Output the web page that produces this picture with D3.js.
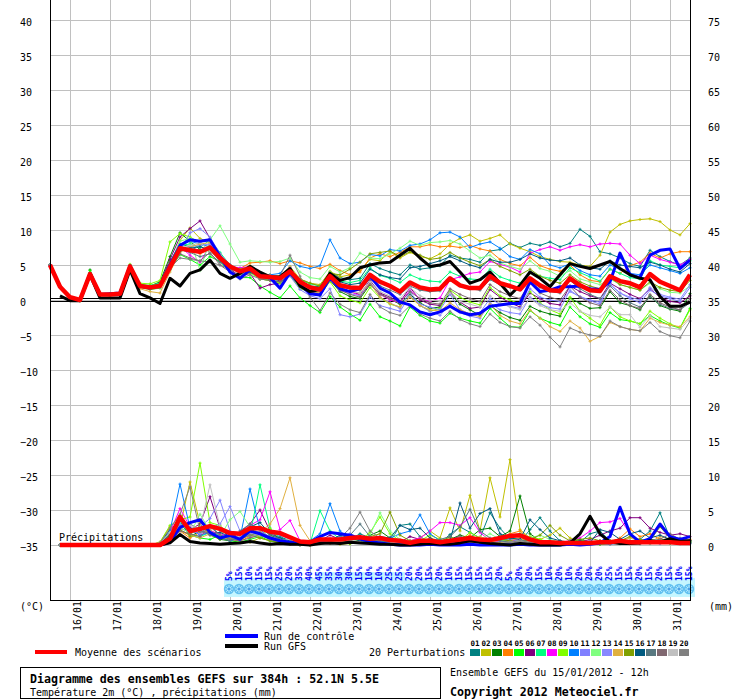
<!DOCTYPE html>
<html><head><meta charset="utf-8">
<script src="https://cdn.jsdelivr.net/npm/d3@7"></script>
<style>
body{margin:0;background:#fff}
svg{display:block}
text{font-family:"DejaVu Sans Mono",monospace;fill:#000}
</style></head><body>
<svg id="c" width="740" height="700"></svg>
<script>
// ---------- DATA ----------
const dayLabels=["16/01","17/01","18/01","19/01","20/01","21/01","22/01","23/01","24/01","25/01","26/01","27/01","28/01","29/01","30/01","31/01"];
const leftTicks=[40,35,30,25,20,15,10,5,0,-5,-10,-15,-20,-25,-30,-35];
const rightTicks=[75,70,65,60,55,50,45,40,35,30,25,20,15,10,5,0];
const memberNames=["01","02","03","04","05","06","07","08","09","10","11","12","13","14","15","16","17","18","19","20"];
const memberColors=["#008080","#c0c000","#008000","#ff8000","#00ff00","#800080","#00ff80","#ff00ff","#80ff00","#0080ff","#8080ff","#80ff80","#8888ff","#e0b040","#80a000","#005a80","#587880","#806870","#c0c0c0","#808080"];

// temperature (°C), 6-hourly from 15/01 12h
const tMean=[5.0,1.9,0.4,0.0,3.7,0.8,0.8,0.9,4.8,2.0,1.8,2.0,4.7,7.4,7.1,6.9,7.5,6.0,4.8,4.1,4.5,3.4,3.3,3.1,4.1,2.6,1.8,1.5,3.4,2.1,1.8,1.7,3.6,2.6,2.0,1.2,2.5,1.8,1.5,1.6,3.1,2.1,1.7,1.7,3.4,2.4,2.0,1.5,3.1,2.1,1.4,1.3,3.1,2.1,1.4,1.3,3.4,2.7,2.4,1.8,3.7,2.6,2.0,1.4,3.6];
const tControl=[5.0,1.9,0.4,0.0,3.8,0.8,0.9,1.0,4.9,2.0,1.7,2.1,5.0,7.8,8.6,8.4,8.6,6.2,4.0,3.1,4.3,3.6,3.2,1.7,3.9,2.2,0.9,0.7,3.2,1.6,1.2,1.6,3.4,1.7,1.0,-0.3,-0.7,-1.7,-2.1,-1.7,-0.9,-1.7,-2.1,-1.9,-0.9,-0.7,-0.5,-0.5,2.6,1.2,1.4,1.9,1.9,2.0,1.6,1.5,2.6,6.7,3.6,3.2,6.4,7.1,7.3,4.5,5.7];
const tGFS=[null,0.6,-0.1,-0.1,3.6,0.3,0.3,0.3,4.3,0.9,0.3,-0.5,3.1,2.0,3.8,4.3,5.7,3.8,3.1,3.8,4.8,4.0,3.3,3.3,4.5,2.0,1.2,1.5,3.8,2.8,3.2,4.6,5.0,5.3,5.4,6.4,7.4,6.0,4.8,5.0,5.5,4.0,2.4,2.9,4.0,2.4,0.7,2.1,4.0,3.1,1.9,3.6,5.2,4.8,4.5,5.0,5.5,4.5,3.6,3.1,2.9,0.5,-0.9,-0.9,-0.3];
const t01=[5.0,1.9,0.4,0.1,3.8,0.9,0.8,1.0,4.9,2.1,1.9,2.3,5.5,8.0,7.6,7.0,7.8,6.2,4.9,4.0,4.6,3.5,3.0,2.9,4.3,2.8,2.0,1.9,4.0,3.2,2.9,3.1,5.2,4.5,4.0,3.6,5.0,4.4,4.6,4.9,6.4,6.0,5.8,5.4,7.0,7.2,8.1,7.5,8.1,7.8,8.3,7.6,8.1,10.1,9.1,6.9,6.6,6.0,5.2,4.8,7.1,6.2,5.5,5.0,6.0];
const t02=[5.0,1.9,0.4,0.0,3.6,0.8,0.9,0.9,4.7,1.9,1.7,2.1,5.0,8.5,10.3,8.8,8.2,6.6,5.0,4.3,4.9,3.8,3.6,3.3,4.8,3.0,2.4,2.2,4.1,3.3,3.6,4.2,5.8,5.6,6.9,6.0,6.8,6.2,5.9,6.6,8.0,8.8,9.3,8.4,8.8,9.3,8.0,7.4,6.9,6.2,5.8,5.5,5.4,5.0,4.8,6.4,9.7,10.8,11.3,11.5,11.6,11.2,10.0,9.3,10.9];
const t03=[5.0,1.8,0.3,-0.1,4.3,0.9,0.7,0.8,5.0,2.2,2.0,2.6,6.2,9.6,8.4,7.2,7.0,5.8,4.6,3.8,4.2,3.0,2.8,2.6,3.6,1.8,1.0,0.6,2.8,1.2,0.5,0.2,2.2,0.9,0.1,-0.6,0.8,-0.4,-1.2,-1.0,1.0,-0.6,-1.4,-2.2,-0.8,-1.8,-2.5,-2.9,-0.9,-1.6,-2.0,-2.3,0.3,-0.5,-1.2,-1.1,1.2,-0.4,-0.8,-1.4,0.6,-0.8,-1.3,-1.6,0.9];
const t04=[5.0,1.9,0.5,0.1,3.7,0.8,0.8,0.9,4.6,1.9,1.6,1.8,4.6,7.0,7.4,6.6,7.2,5.6,4.4,4.5,5.3,5.4,5.6,5.2,5.6,5.3,4.8,4.5,5.1,4.2,3.6,4.0,6.0,6.6,6.2,6.8,7.6,7.6,7.9,7.6,7.7,7.5,7.8,7.3,7.0,5.8,5.2,4.9,6.1,4.9,4.4,4.1,5.0,3.6,2.8,2.6,4.4,3.8,4.9,5.4,6.7,6.0,6.6,6.9,6.9];
const t05=[5.0,1.8,0.3,-0.1,4.2,0.7,0.6,0.8,4.5,1.8,1.5,1.7,4.3,6.5,5.8,5.0,6.2,5.5,4.0,3.2,3.2,2.0,1.1,0.3,2.0,0.3,-0.8,-1.8,0.5,-1.0,-2.0,-2.9,-0.6,-2.4,-3.0,-3.7,-1.0,-2.2,-3.0,-3.3,-1.9,-2.6,-3.0,-3.3,-1.2,-2.6,-3.8,-3.9,-1.5,-2.6,-3.2,-3.6,-1.0,-2.4,-3.4,-3.9,-1.8,-2.8,-3.0,-3.4,-2.2,-3.0,-3.6,-4.0,-1.2];
const t06=[5.0,1.9,0.4,0.0,3.7,0.8,0.8,1.0,4.8,2.1,1.9,2.4,5.8,9.0,10.2,11.3,8.8,6.4,4.4,3.4,3.8,1.7,2.2,2.4,3.8,2.2,1.4,0.9,3.0,1.6,1.2,0.8,2.8,1.0,0.4,-0.3,1.8,0.0,-0.6,-0.8,1.2,-0.3,-1.2,-1.0,1.5,0.4,-0.4,-1.0,1.0,0.2,-0.5,-0.7,2.0,1.2,0.6,0.2,2.4,1.6,0.8,0.2,1.6,0.4,-0.2,-0.4,0.6];
const t07=[5.0,2.0,0.4,0.0,3.8,0.8,0.8,0.9,4.9,2.2,2.1,2.4,5.0,7.8,8.0,7.5,8.6,6.8,5.0,4.2,4.4,3.6,3.3,3.2,4.4,2.9,2.3,2.0,3.9,2.7,2.5,2.8,4.6,3.5,3.1,2.5,3.6,3.0,2.7,2.6,4.0,3.4,3.0,2.9,4.4,3.3,2.8,2.4,4.0,3.4,3.1,2.9,4.6,3.9,3.3,2.7,4.4,3.8,3.2,3.0,5.6,5.0,4.8,4.6,5.6];
const t08=[5.0,1.9,0.4,0.0,3.7,0.8,0.8,0.9,4.8,2.0,1.8,2.0,4.9,7.6,6.4,5.4,7.8,6.1,4.8,4.6,4.8,3.8,3.5,3.3,4.6,2.7,1.6,1.3,3.5,1.9,1.2,0.6,2.3,0.8,0.0,-0.4,1.4,0.2,-0.2,0.3,2.9,3.3,3.8,4.0,5.5,5.1,4.7,4.0,6.7,7.2,7.6,7.1,7.6,7.9,7.6,8.0,8.1,8.0,6.4,5.2,6.4,5.8,5.4,5.0,5.8];
const t09=[5.0,2.0,0.5,0.1,3.9,0.9,0.9,1.0,5.1,2.4,2.3,2.8,8.3,9.5,9.0,8.2,7.0,6.0,4.7,3.6,3.9,3.0,2.8,2.4,3.5,1.6,1.2,0.9,2.6,0.6,0.0,-0.4,1.8,0.3,-0.6,-1.0,0.5,-0.8,-1.6,-1.2,1.4,0.4,-0.3,-0.7,1.8,0.6,0.0,-0.6,1.2,-0.4,-1.4,-2.0,0.4,-1.6,-2.6,-3.6,-1.0,-2.4,-3.0,-3.4,-1.6,-2.6,-3.4,-4.0,-1.4];
const t10=[5.0,1.9,0.4,0.0,3.7,0.8,0.8,0.9,4.7,1.9,1.7,2.0,4.8,7.8,8.4,8.0,7.6,6.3,5.0,3.9,4.7,3.6,3.6,3.8,5.6,4.8,4.5,4.9,8.6,6.0,5.2,5.4,6.5,6.3,7.2,7.0,7.8,8.0,8.6,9.6,9.7,9.0,7.5,8.0,8.3,7.4,6.2,5.8,7.2,6.6,5.0,4.6,5.2,4.2,3.6,3.4,5.0,4.4,3.8,3.6,5.0,4.6,4.2,3.8,4.6];
const t11=[5.0,1.9,0.4,0.0,3.6,0.7,0.7,0.8,4.6,1.8,1.6,1.8,4.5,7.0,9.6,10.2,9.0,6.6,5.0,4.4,4.5,3.4,3.1,2.8,3.4,1.5,0.6,0.2,1.6,-2.1,-2.4,-2.0,0.4,-0.8,-1.2,-1.6,0.6,-0.6,-1.0,-1.4,0.8,-1.4,-2.0,-1.8,0.2,-0.6,-0.9,-1.2,1.6,0.4,0.0,-0.2,1.2,0.5,0.0,-0.3,2.2,1.0,0.2,-0.4,1.4,0.6,0.2,-0.2,1.8];
const t12=[5.0,2.0,0.5,0.1,3.8,0.9,0.8,0.9,4.9,2.0,1.8,2.2,5.2,8.4,8.8,4.2,8.6,10.6,8.0,5.4,5.6,5.5,5.4,5.5,6.0,4.0,3.2,3.0,4.8,4.0,4.6,6.7,6.0,5.9,6.6,7.4,8.4,7.8,8.2,8.3,8.5,8.0,7.0,6.0,6.4,5.3,4.8,4.4,5.6,4.5,4.1,3.4,4.2,3.0,2.6,2.2,3.0,2.2,1.8,1.4,2.4,1.6,1.1,1.0,2.0];
const t13=[5.0,1.9,0.4,0.0,3.7,0.8,0.8,0.9,4.8,2.0,1.9,2.1,4.9,7.2,7.6,7.8,8.0,6.0,4.6,3.8,4.2,3.2,3.1,2.9,3.8,2.2,1.2,0.9,2.9,1.4,0.9,0.6,2.5,0.4,-0.4,-1.2,1.2,-0.8,-1.6,-2.2,-0.6,-1.8,-2.3,-2.6,-0.4,-1.4,-1.8,-2.0,0.4,-0.6,-1.1,-1.3,1.4,0.4,-0.1,-0.6,2.3,1.0,0.4,0.0,1.8,0.8,0.4,0.1,2.2];
const t14=[5.0,1.9,0.4,0.0,3.7,0.8,0.8,0.9,4.6,1.6,1.2,1.0,4.0,6.8,7.6,8.0,8.2,6.4,4.8,3.8,4.4,3.6,3.5,3.4,4.2,2.2,1.3,1.0,3.0,1.8,1.2,1.0,2.4,0.4,-0.5,-1.0,0.4,-0.8,-1.4,-1.6,-0.4,-1.4,-2.0,-2.4,-0.6,-2.2,-3.0,-3.4,-1.4,-2.6,-3.8,-4.5,-3.0,-4.0,-5.9,-5.2,-3.2,-3.8,-4.2,-4.4,-2.6,-3.2,-3.6,-3.8,-2.4];
const t15=[5.0,1.9,0.4,0.0,3.8,0.8,0.8,0.9,4.8,2.1,2.0,2.3,5.4,7.6,7.2,7.0,7.6,6.0,4.9,4.4,4.8,3.6,3.4,3.4,4.4,3.0,2.4,2.0,3.8,3.6,4.4,5.4,6.6,6.8,7.0,6.2,6.9,6.4,5.8,6.0,6.8,6.0,5.4,4.9,5.8,4.8,4.2,3.6,4.4,3.4,2.8,2.4,3.6,2.6,2.0,1.6,3.2,2.2,1.8,1.4,2.6,1.8,1.4,1.2,2.8];
const t16=[5.0,1.9,0.4,0.0,3.7,0.8,0.8,0.9,4.8,2.0,1.8,2.0,4.8,7.0,7.4,7.6,7.2,5.6,4.4,4.0,4.0,3.2,3.0,2.8,4.0,2.4,1.8,1.6,3.6,2.6,2.2,2.4,4.4,3.6,3.2,3.0,4.6,4.8,5.2,5.6,6.2,5.6,5.0,4.6,5.8,5.4,5.4,5.8,6.6,6.0,5.7,5.6,6.0,5.0,4.6,4.4,5.6,5.0,4.8,4.6,5.4,5.0,4.4,4.0,5.2];
const t17=[5.0,1.9,0.4,0.0,3.7,0.8,0.8,0.9,4.8,2.0,1.8,2.0,4.6,7.2,6.8,6.2,6.6,5.4,4.6,4.0,4.4,3.2,3.0,2.9,4.4,2.8,1.9,1.6,3.4,2.0,1.6,1.4,3.0,2.0,1.4,0.8,2.0,1.4,1.2,1.3,2.8,2.0,1.6,1.4,2.9,2.2,1.8,1.6,2.8,1.8,1.2,1.0,2.8,1.6,0.8,0.2,2.0,0.6,-0.4,-1.0,0.4,-0.6,-1.2,-1.4,-0.4];
const t18=[5.0,1.9,0.4,0.0,3.7,0.8,0.8,0.9,4.8,2.0,1.8,2.0,4.4,6.6,6.0,5.6,6.8,5.0,4.0,3.4,4.2,3.0,2.8,2.6,3.6,2.0,1.2,0.8,2.8,1.4,0.8,0.4,2.4,0.8,0.2,-0.4,1.2,0.2,-0.4,-0.6,1.6,0.8,0.2,-0.2,2.2,1.2,0.6,0.2,2.4,1.0,0.4,0.0,2.0,0.4,-0.4,-0.8,1.4,0.0,-0.8,-1.2,0.8,-0.4,-1.0,-1.4,0.2];
const t19=[5.0,1.9,0.4,0.0,3.7,0.8,0.8,0.9,4.8,2.0,1.8,2.0,4.8,7.4,7.8,8.2,7.0,5.8,4.6,3.6,4.4,3.2,3.1,3.0,4.6,2.5,1.6,1.4,3.2,1.8,1.2,1.0,2.6,1.2,0.6,0.2,1.8,0.6,0.0,-0.2,1.0,-0.2,-0.6,-1.0,0.6,-0.4,-1.0,-1.4,0.2,-0.8,-1.4,-1.6,-0.4,-1.6,-2.2,-2.4,-1.0,-2.1,-2.1,-3.9,-2.2,-3.8,-4.0,-4.2,-2.6];
const t20=[5.0,1.9,0.4,0.0,3.7,0.8,0.8,0.9,4.8,2.0,1.8,2.0,4.6,6.0,5.8,5.6,5.4,5.0,4.4,3.0,3.6,3.0,3.2,3.4,6.4,3.4,0.4,-1.5,1.0,-0.6,-1.4,-1.8,0.8,-1.0,-1.8,-2.2,-0.8,-2.0,-2.6,-3.0,-1.6,-2.8,-3.4,-3.8,-2.0,-3.2,-3.8,-4.0,-2.4,-3.6,-5.3,-6.7,-4.0,-4.6,-5.0,-5.2,-3.0,-3.8,-4.2,-4.4,-3.2,-4.5,-5.1,-5.4,-3.0];

// precipitation (mm / 6h)
const pMean=[null,0,0,0,0,0,0,0,0,0,0,0,0.9,4.0,2.0,2.3,2.7,2.3,1.7,1.6,2.4,2.4,1.9,1.7,1.1,0.5,0.4,0.8,0.8,0.8,1.0,1.1,0.9,1.0,0.7,0.6,0.3,0.6,0.6,0.4,0.6,0.8,1.0,0.8,0.7,1.0,1.3,1.4,0.8,0.4,0.4,0.3,0.3,0.3,0.3,0.4,0.4,0.6,0.4,0.4,0.4,0.4,0.4,0.3,0.3];
const pGFS=[null,0,0,0,0,0,0,0,0,0,0,0,0.3,1.5,0.5,0.3,0.2,0.1,0.2,0.3,0.5,0.3,0.1,0.2,0.1,0.1,0.0,0.2,0.3,0.2,0.4,0.3,0.2,0.1,0.1,0.0,0.0,0.1,0.2,0.1,0.1,0.3,0.6,0.4,0.2,0.1,0.0,0.2,0.1,0.0,0.0,0.0,0.3,1.6,4.1,1.6,0.4,0.2,0.2,0.3,0.6,0.4,0.9,0.5,0.6];
const pControl=[null,0,0,0,0,0,0,0,0,0,0,0,0.4,2.5,3.2,3.6,1.8,1.0,1.4,0.8,2.0,1.6,1.0,0.6,0.4,0.2,0.4,1.2,1.8,1.6,1.4,0.9,0.5,0.3,0.1,0.0,0.0,0.0,0.1,0.0,0.0,0.0,0.1,0.0,0.0,0.0,0.0,0.1,0.0,0.0,0.0,0.0,0.1,0.0,0.1,0.3,1.2,5.4,1.6,0.4,0.9,3.0,1.2,0.8,1.2];
const p01=[null,0,0,0,0,0,0,0,0,0,0,0.2,1.5,3.0,2.0,1.6,2.8,1.4,1.0,0.8,2.2,1.8,1.0,1.2,0.6,0.2,0.1,0.4,0.6,0.5,0.8,1.6,1.0,0.6,0.4,2.8,3.0,1.2,0.4,0.3,1.5,2.6,1.8,1.0,4.6,2.4,0.8,0.4,2.2,3.9,2.0,0.6,0.2,0.4,1.6,2.0,0.6,0.2,0.4,0.8,2.0,4.6,1.0,0.4,0.6];
const p02=[null,0,0,0,0,0,0,0,0,0,0,0.1,0.8,2.6,9.0,3.0,1.4,0.8,1.2,0.6,0.4,1.0,0.6,0.2,0.1,0.1,0.0,0.2,0.3,0.1,0.2,0.6,0.3,0.2,0.4,0.2,0.6,1.0,2.0,1.0,5.3,2.0,7.1,2.0,9.6,4.0,12.2,2.2,1.0,0.8,1.4,2.4,1.0,0.4,0.2,0.1,0.2,0.4,0.3,0.2,0.4,0.6,0.3,0.2,0.4];
const p03=[null,0,0,0,0,0,0,0,0,0,0,0.3,2.2,3.4,1.2,2.0,1.6,0.8,0.6,1.0,1.8,2.6,1.4,0.8,0.5,0.2,0.3,0.5,0.4,0.8,1.2,0.8,1.4,2.0,1.0,0.4,0.2,0.3,0.2,0.4,0.8,1.4,1.0,2.2,2.4,1.2,2.0,7.0,1.6,0.6,0.2,0.1,0.2,0.4,0.2,0.1,0.3,0.8,0.4,0.2,0.4,0.8,0.6,0.4,0.2];
const p04=[null,0,0,0,0,0,0,0,0,0,0,0.4,2.6,2.0,1.0,1.8,2.2,1.2,0.8,0.6,1.2,1.6,0.8,0.6,0.4,0.3,0.2,0.6,0.9,0.4,0.6,0.8,0.5,0.8,0.4,0.2,0.1,0.4,1.0,0.6,0.4,0.8,1.4,0.6,0.4,1.0,1.6,2.0,0.8,0.4,0.3,0.2,0.4,0.6,0.3,0.2,0.4,1.0,2.3,1.2,1.6,0.8,0.4,0.6,0.8];
const p05=[null,0,0,0,0,0,0,0,0,0,0,0.2,1.6,4.2,1.4,1.0,0.8,1.4,0.6,0.4,0.8,1.2,0.6,0.3,0.2,0.0,0.1,0.3,0.6,0.4,0.2,0.6,0.8,0.4,0.2,0.1,0.0,0.2,0.4,0.2,0.3,0.6,0.4,0.8,0.5,0.3,1.0,1.6,0.4,0.2,0.1,0.2,0.5,0.8,0.4,0.2,0.6,0.4,0.2,0.3,0.6,0.4,0.2,0.3,0.4];
const p06=[null,0,0,0,0,0,0,0,0,0,0,0.1,1.0,2.8,2.2,3.0,6.9,2.4,1.0,1.8,3.0,5.0,2.0,0.8,0.4,0.0,0.2,0.6,1.4,0.8,0.4,0.6,1.0,0.6,0.2,0.4,1.2,0.8,0.4,0.3,0.8,1.2,0.6,0.4,0.3,0.6,1.0,0.6,0.4,0.2,0.1,0.1,0.2,0.4,0.8,1.4,2.0,2.4,3.9,3.9,2.4,1.8,1.4,1.6,1.2];
const p07=[null,0,0,0,0,0,0,0,0,0,0,0.2,1.2,3.2,1.6,1.2,1.8,1.4,0.8,1.0,1.4,8.6,2.4,1.0,0.6,0.3,0.2,4.9,2.0,0.8,0.6,1.2,0.8,0.6,0.3,0.2,0.1,0.2,0.6,0.4,0.2,0.4,0.8,0.6,0.4,0.6,1.0,0.8,0.4,0.2,0.2,0.3,0.4,0.2,0.3,0.6,0.4,0.2,0.3,0.4,0.6,0.3,0.4,0.6,0.4];
const p08=[null,0,0,0,0,0,0,0,0,0,0,0.3,1.8,5.2,2.6,1.4,2.0,1.6,1.2,0.8,2.8,3.6,7.6,2.2,3.5,0.6,0.2,0.4,0.6,0.4,0.8,1.0,0.6,0.4,0.2,0.3,0.6,1.0,2.0,3.2,3.2,2.8,3.9,1.8,0.6,0.4,0.6,0.8,0.4,0.2,0.2,0.4,0.6,1.0,2.0,3.2,3.3,3.8,1.6,0.6,0.4,0.6,0.4,0.2,0.3];
const p09=[null,0,0,0,0,0,0,0,0,0,0,0.4,2.8,3.6,4.0,11.7,3.2,2.8,1.4,1.0,1.6,1.2,2.4,0.8,0.3,0.1,0.0,0.2,0.4,0.2,0.3,0.6,1.8,4.0,1.6,0.6,0.4,0.6,1.4,0.8,0.4,0.6,1.8,1.0,0.8,0.6,0.4,0.6,1.2,0.8,0.4,0.2,0.3,0.6,0.2,0.1,0.2,0.4,0.6,0.3,0.2,0.4,0.6,0.3,0.4];
const p10=[null,0,0,0,0,0,0,0,0,0,0,0.2,2.0,8.7,2.4,1.4,1.8,1.2,0.6,1.0,8.0,2.2,1.0,0.6,0.4,0.2,0.6,1.6,5.9,2.0,0.8,0.6,0.4,0.6,1.0,1.6,2.0,4.3,1.6,0.6,0.3,0.2,0.4,0.6,0.3,0.2,0.4,0.3,0.2,0.1,0.1,0.2,0.1,0.2,0.4,0.2,0.1,0.3,0.2,0.4,0.3,0.2,0.4,0.2,0.3];
const p11=[null,0,0,0,0,0,0,0,0,0,0,0.1,1.2,2.4,1.8,2.6,3.8,6.4,2.0,1.2,1.6,2.0,1.2,0.8,0.3,0.1,0.2,0.4,0.8,1.2,1.6,0.8,0.6,0.4,0.2,0.1,0.2,0.6,0.4,0.2,0.3,0.4,0.6,0.4,0.2,0.4,0.8,0.6,0.3,0.2,0.1,0.1,0.2,0.4,0.6,0.3,0.2,0.4,0.6,0.4,0.2,0.3,0.4,0.2,0.2];
const p12=[null,0,0,0,0,0,0,0,0,0,0,0.3,1.4,2.6,1.6,4.4,2.0,1.2,3.6,4.8,2.6,1.4,1.0,0.6,0.3,0.2,0.1,0.3,0.4,0.6,0.4,0.8,1.4,4.6,2.0,0.8,0.4,0.3,0.4,0.8,1.0,0.6,0.4,0.8,1.6,0.8,0.4,0.6,1.0,1.4,0.8,0.4,0.2,0.3,0.4,0.6,0.3,0.2,0.4,0.3,0.2,0.6,0.4,0.2,0.3];
const p13=[null,0,0,0,0,0,0,0,0,0,0,0.2,1.0,3.0,2.0,1.6,2.4,3.0,5.5,2.0,1.2,1.6,0.8,1.4,0.8,0.3,0.1,0.2,0.5,0.8,1.6,1.0,0.6,0.4,0.2,0.2,0.4,0.8,0.6,0.3,0.2,0.4,0.6,0.3,0.2,0.4,0.2,0.4,0.6,0.4,0.2,0.1,0.2,0.4,0.3,0.2,0.4,0.6,0.3,0.2,0.4,0.2,0.3,0.4,0.2];
const p14=[null,0,0,0,0,0,0,0,0,0,0,0.2,0.8,2.0,1.4,1.0,1.6,1.2,0.8,1.4,2.0,1.8,3.0,5.2,9.6,2.8,0.6,0.3,0.2,0.4,0.6,0.4,0.2,0.6,0.8,0.4,0.2,0.1,0.2,0.4,0.6,0.3,0.8,1.2,0.6,0.3,0.6,1.0,0.4,0.2,0.4,0.2,0.1,0.2,0.4,0.3,0.2,0.6,1.0,0.6,0.4,1.2,0.8,0.4,0.6];
const p15=[null,0,0,0,0,0,0,0,0,0,0,0.2,1.6,2.2,1.4,2.8,1.6,1.0,1.4,0.8,1.4,1.0,0.6,0.4,0.2,0.1,0.1,0.3,0.5,0.3,0.2,0.8,1.2,1.6,4.7,1.4,0.6,0.4,0.2,0.4,1.2,0.6,0.3,0.4,0.6,0.8,0.6,0.4,0.8,1.4,2.8,1.4,0.6,0.8,1.0,0.6,0.4,0.6,1.2,0.8,0.6,2.6,1.0,0.8,0.6];
const p16=[null,0,0,0,0,0,0,0,0,0,0,0.2,1.4,3.8,2.4,2.0,1.6,1.8,1.2,0.8,2.6,3.2,1.6,1.0,0.6,0.2,0.1,0.4,0.6,1.4,1.0,0.6,0.8,1.2,1.0,2.8,2.2,2.4,1.0,0.4,0.6,6.0,2.4,4.5,5.2,1.6,1.0,0.8,3.6,2.2,1.0,0.6,0.4,0.6,0.3,2.2,1.8,0.8,1.6,2.0,1.0,1.4,0.8,0.4,0.6];
const p17=[null,0,0,0,0,0,0,0,0,0,0,0.1,1.0,2.4,3.0,2.2,1.4,1.0,0.6,2.0,3.0,2.4,1.6,0.8,0.4,0.2,0.3,0.6,0.8,0.6,1.4,3.0,1.2,0.6,0.4,0.3,0.2,0.4,0.6,0.8,1.2,2.6,5.1,2.0,1.0,0.6,0.4,0.6,0.8,0.4,0.2,0.3,0.6,0.4,0.2,0.4,0.6,0.4,0.2,0.4,0.8,0.6,0.4,1.0,0.6];
const p18=[null,0,0,0,0,0,0,0,0,0,0,0.1,0.8,2.0,1.6,1.2,2.6,1.4,0.8,0.6,1.0,1.4,0.8,0.4,0.2,0.1,0.0,0.2,0.4,0.3,0.6,0.4,0.3,0.2,0.1,0.2,0.3,0.4,0.2,0.3,0.6,0.4,0.3,0.6,0.4,0.2,0.3,0.5,0.3,0.2,0.1,0.2,0.3,0.2,0.4,0.6,0.4,0.3,0.2,0.4,0.6,0.8,1.6,0.8,0.6];
const p19=[null,0,0,0,0,0,0,0,0,0,0,0.3,1.8,3.4,2.8,2.4,8.6,2.6,1.4,1.0,1.8,1.4,1.0,0.6,0.8,0.4,0.2,0.2,0.3,0.6,0.8,0.4,0.3,0.2,0.4,0.3,0.2,0.4,0.6,0.4,0.2,0.3,0.6,0.4,0.3,0.2,0.4,0.6,0.3,0.2,0.2,0.1,0.2,0.3,0.2,0.4,0.3,0.2,0.1,0.2,0.3,0.2,0.4,0.3,0.2];
const p20=[null,0,0,0,0,0,0,0,0,0,0,0.3,2.4,4.4,8.3,2.0,1.6,1.2,1.0,0.8,1.4,1.8,1.2,0.6,0.4,0.2,0.1,0.3,0.6,1.0,2.4,4.7,2.0,1.0,0.6,0.4,0.3,0.6,0.8,0.4,0.6,1.2,0.8,0.4,0.3,0.2,0.4,0.6,0.4,0.2,0.1,0.2,0.3,0.2,0.1,0.3,0.2,0.4,0.3,0.2,0.4,0.6,0.8,0.4,0.3];

// snow probability (%) from 20/01 00h (step 18) to the end, and a raised snow band
const snowPct=[5,15,10,15,15,25,20,35,40,45,35,30,30,15,10,10,25,25,20,20,15,20,10,15,15,15,15,20,5,20,20,15,10,20,10,20,20,20,25,15,15,20,15,20,15,10,15];
const snowBand=[0,0,0,0,0,0,0,0,0,1,1,1,1,1,1,1,1,1,0,0,0,0,0,0,0,0,0,0,0,0,0,0,0,0,0,0,0,0,0,0,0,0,0,0,0,0,0];
const snowStart=18;

const tMembers=[t01,t02,t03,t04,t05,t06,t07,t08,t09,t10,t11,t12,t13,t14,t15,t16,t17,t18,t19,t20];
const pMembers=[p01,p02,p03,p04,p05,p06,p07,p08,p09,p10,p11,p12,p13,p14,p15,p16,p17,p18,p19,p20];

// ---------- CHART ----------
const svg=d3.select("#c");
const x=d3.scaleLinear().domain([0,64]).range([50,690]);
const y=d3.scaleLinear().domain([-300/7,300/7]).range([600,0]);
const yR=d3.scaleLinear().domain([-300/7+35,300/7+35]).range([600,0]);
const yp=d3.scaleLinear().domain([0,10]).range([y(-35),y(-25)]);
const dayIdx=dayLabels.map((d,i)=>2+4*i);

// grid
svg.append("g").selectAll("line").data(dayIdx).join("line")
  .attr("x1",d=>x(d)+0.5).attr("x2",d=>x(d)+0.5).attr("y1",0).attr("y2",600)
  .attr("stroke","#c0c0c0").attr("stroke-width",1);
svg.append("g").selectAll("line").data(leftTicks).join("line")
  .attr("x1",50).attr("x2",690).attr("y1",d=>y(d)+0.5).attr("y2",d=>y(d)+0.5)
  .attr("stroke","#c0c0c0").attr("stroke-width",1);

// snow band
const sb=svg.append("g");
sb.append("rect").attr("x",x(snowStart)-6).attr("y",578).attr("width",x(64)-x(snowStart)+11).attr("height",19).attr("fill","#c4f6ff");
sb.selectAll("rect.hi").data(snowBand.map((v,k)=>({v,k})).filter(d=>d.v>0)).join("rect")
  .attr("class","hi").attr("x",d=>x(snowStart+d.k)-5).attr("width",10).attr("y",572).attr("height",7).attr("fill","#c4f6ff");
const flakes=sb.selectAll("g.f").data(snowPct).join("g").attr("class","f")
  .attr("transform",(d,k)=>`translate(${x(snowStart+k)-1},589)`);
flakes.append("circle").attr("r",5.2).attr("fill","#62c0f0");
flakes.append("path").attr("d","M-4,0H4M0,-4V4M-2.8,-2.8L2.8,2.8M-2.8,2.8L2.8,-2.8").attr("stroke","#b8ecff").attr("stroke-width",1);
flakes.append("circle").attr("r",1.3).attr("fill","#4aa0e8");
sb.selectAll("text").data(snowPct).join("text")
  .attr("transform",(d,k)=>`translate(${x(snowStart+k)-1},581) rotate(-90)`)
  .attr("dy","0.35em").attr("font-size","8px").attr("font-weight","bold")
  .style("fill","#0000ff").text(d=>d+"%");

// zero double line
[-1.5,1.5].forEach(o=>svg.append("line").attr("x1",50).attr("x2",690)
  .attr("y1",y(0)+o).attr("y2",y(0)+o).attr("stroke","#000").attr("stroke-width",1));

// lines
const lineT=d3.line().defined(d=>d!=null).x((d,i)=>x(i)).y(d=>y(d));
const lineP=d3.line().defined(d=>d!=null).x((d,i)=>x(i)).y(d=>yp(d));
const cross="M-1.5,0H1.5M0,-1.5V1.5";

function drawMembers(arrs,yf,lf){
  const g=svg.append("g");
  arrs.forEach((arr,m)=>{
    g.append("path").attr("d",lf(arr)).attr("fill","none").attr("stroke",memberColors[m]).attr("stroke-width",1);
    g.selectAll(null).data(arr.map((v,i)=>({v,i})).filter(d=>d.v!=null)).join("path")
      .attr("transform",d=>`translate(${x(d.i)},${yf(d.v)})`).attr("d",cross)
      .attr("stroke",memberColors[m]).attr("stroke-width",1);
  });
}
drawMembers(tMembers,y,lineT);
drawMembers(pMembers,yp,lineP);

function thick(arr,lf,col,w){
  svg.append("path").attr("d",lf(arr)).attr("fill","none").attr("stroke",col)
    .attr("stroke-width",w).attr("stroke-linejoin","round");
}
thick(tControl,lineT,"#0000ff",3);
thick(tGFS,lineT,"#000",3);
thick(pControl,lineP,"#0000ff",3);
thick(pGFS,lineP,"#000",3);
thick(tMean,lineT,"#ff0000",4.5);
thick(pMean,lineP,"#ff0000",4.5);

svg.append("text").attr("x",59).attr("y",541).attr("font-size","10px").text("Précipitations");

// axes frame
svg.append("line").attr("x1",50.5).attr("x2",50.5).attr("y1",0).attr("y2",601).attr("stroke","#000");
svg.append("line").attr("x1",690.5).attr("x2",690.5).attr("y1",0).attr("y2",601).attr("stroke","#000");
svg.append("line").attr("x1",50).attr("x2",691).attr("y1",600.5).attr("y2",600.5).attr("stroke","#000");

// axis labels
const axL=svg.append("g").attr("transform","translate(50,0)")
  .call(d3.axisLeft(y).tickValues(leftTicks).tickSize(0).tickFormat(d3.format("d")));
axL.select(".domain").remove();
axL.selectAll("text").attr("x",-30).attr("text-anchor","start").attr("dy","0.55em")
  .attr("font-size","10px").attr("font-family","DejaVu Sans Mono").style("fill","#000");
const axR=svg.append("g").attr("transform","translate(690,0)")
  .call(d3.axisRight(yR).tickValues(rightTicks).tickSize(0).tickFormat(d3.format("d")));
axR.select(".domain").remove();
axR.selectAll("text").attr("x",18).attr("text-anchor","start").attr("dy","0.55em")
  .attr("font-size","10px").attr("font-family","DejaVu Sans Mono").style("fill","#000");

svg.append("text").attr("x",20).attr("y",610).attr("font-size","10px").text("(°C)");
svg.append("text").attr("x",709).attr("y",610).attr("font-size","10px").text("(mm)");

svg.append("g").selectAll("text").data(dayLabels).join("text")
  .attr("transform",(d,i)=>`translate(${x(dayIdx[i])+7},631) rotate(-90)`)
  .attr("dy","0.35em").attr("font-size","10px").text(d=>d);

// legend
svg.append("line").attr("x1",35).attr("x2",67).attr("y1",652).attr("y2",652).attr("stroke","#ff0000").attr("stroke-width",4);
svg.append("text").attr("x",75).attr("y",656).attr("font-size","10px").text("Moyenne des scénarios");
svg.append("line").attr("x1",225).attr("x2",258).attr("y1",636).attr("y2",636).attr("stroke","#0000ff").attr("stroke-width",4);
svg.append("text").attr("x",264).attr("y",640).attr("font-size","10px").text("Run de contrôle");
svg.append("line").attr("x1",225).attr("x2",258).attr("y1",646).attr("y2",646).attr("stroke","#000").attr("stroke-width",4);
svg.append("text").attr("x",264).attr("y",650).attr("font-size","10px").text("Run GFS");
svg.append("text").attr("x",369).attr("y",656).attr("font-size","10px").text("20 Perturbations");
const lg=svg.append("g");
lg.selectAll("rect").data(memberColors).join("rect")
  .attr("x",(d,i)=>470+11*i).attr("y",649).attr("width",10).attr("height",7).attr("fill",d=>d);
lg.selectAll("text").data(memberNames).join("text")
  .attr("x",(d,i)=>475+11*i).attr("y",646).attr("text-anchor","middle")
  .attr("font-size","7.5px").attr("font-weight","bold").text(d=>d);

// info box
svg.append("rect").attr("x",20.5).attr("y",667.5).attr("width",420).attr("height",31).attr("fill","none").attr("stroke","#000");
svg.append("text").attr("x",30).attr("y",683).attr("font-size","11.6px").attr("font-weight","bold").text("Diagramme des ensembles GEFS sur 384h : 52.1N 5.5E");
svg.append("text").attr("x",30).attr("y",696).attr("font-size","10px").text("Température 2m (°C) , précipitations (mm)");
svg.append("text").attr("x",450).attr("y",676).attr("font-size","10px").text("Ensemble GEFS du 15/01/2012 - 12h");
svg.append("text").attr("x",450).attr("y",696).attr("font-size","11.6px").attr("font-weight","bold").text("Copyright 2012 Meteociel.fr");
</script>
</body></html>
